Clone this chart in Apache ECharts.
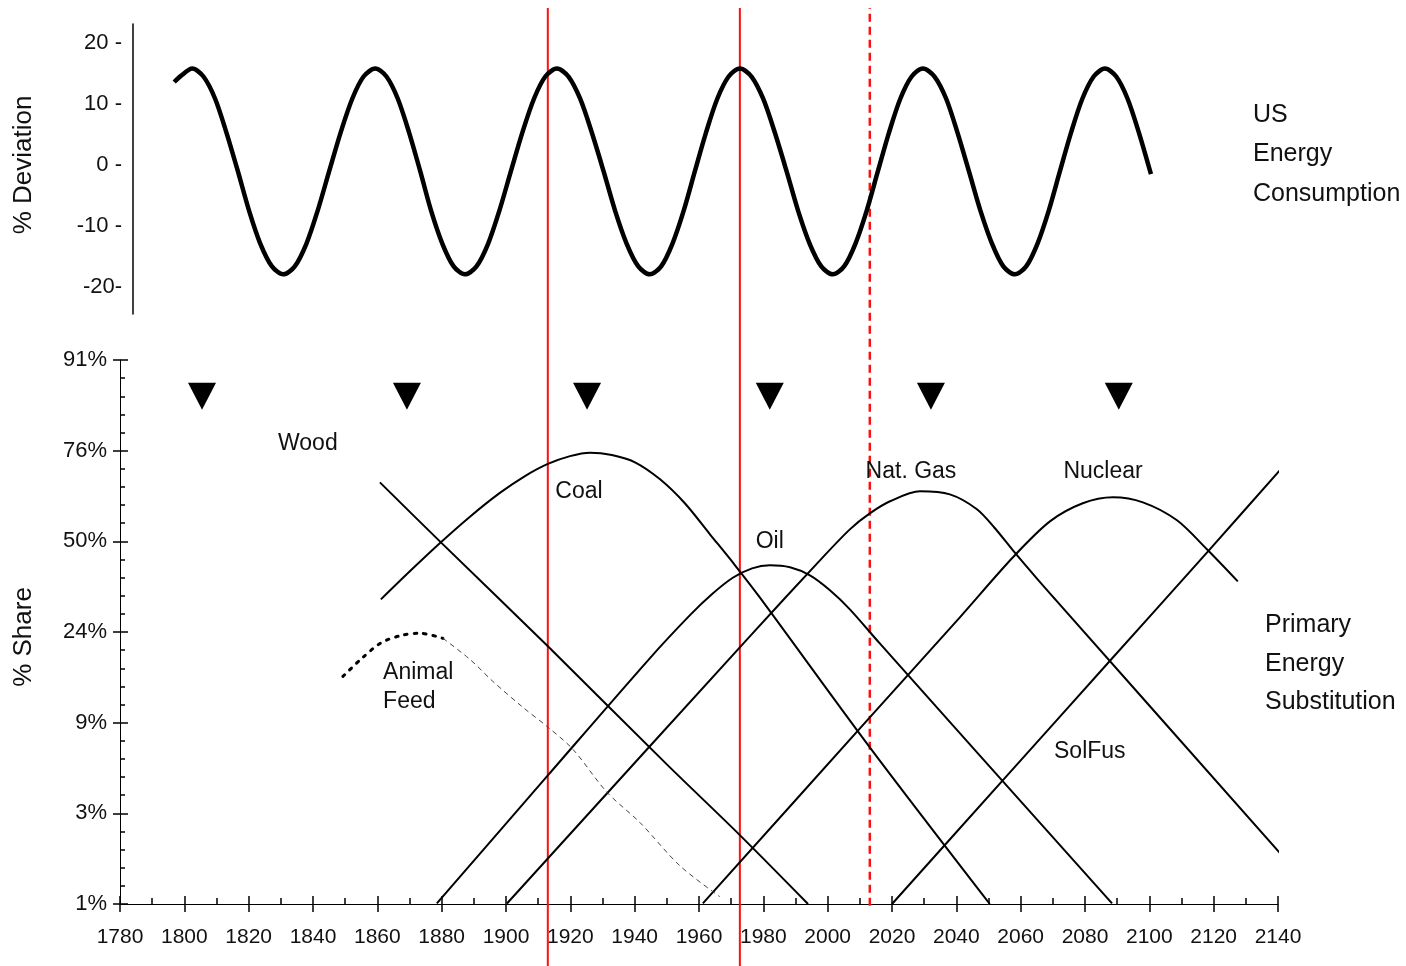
<!DOCTYPE html>
<html>
<head>
<meta charset="utf-8">
<script src="https://cdn.jsdelivr.net/npm/echarts@6/dist/echarts.min.js"></script>
<style>html,body{margin:0;padding:0;background:#fff}#c{width:1406px;height:966px}</style>
</head>
<body>
<div id="c"></div>
<script>
// ---------- DATA ----------
// Top panel: US energy consumption, % deviation
const waveYears = [1796.8, 1798.9,
  1802.4, 1805.9, 1809.5, 1813.0, 1816.6, 1820.1, 1823.6, 1827.2, 1830.7,
  1834.3, 1837.9, 1841.4, 1845.0, 1848.6, 1852.2, 1855.7, 1859.3,
  1862.8, 1866.3, 1869.8, 1873.3, 1876.7, 1880.2, 1883.7, 1887.2,
  1890.8, 1894.4, 1897.9, 1901.5, 1905.1, 1908.7, 1912.2, 1915.8,
  1919.4, 1923.0, 1926.6, 1930.3, 1933.9, 1937.5, 1941.1, 1944.7,
  1948.2, 1951.7, 1955.2, 1958.7, 1962.2, 1965.7, 1969.2, 1972.7,
  1976.3, 1979.9, 1983.5, 1987.2, 1990.8, 1994.4, 1998.0, 2001.6,
  2005.1, 2008.6, 2012.1, 2015.6, 2019.1, 2022.6, 2026.1, 2029.6,
  2033.2, 2036.8, 2040.3, 2043.9, 2047.5, 2051.1, 2054.6, 2058.2,
  2061.7, 2065.2, 2068.7, 2072.2, 2075.7, 2079.2, 2082.7, 2086.2,
  2089.7, 2093.2, 2096.7, 2100.5];
const waveValues = [13.6, 14.6,
  15.8, 14.5, 10.9, 5.4, -1.0, -7.5, -12.9, -16.6, -17.9,
  -16.6, -12.9, -7.5, -1.0, 5.4, 10.9, 14.5, 15.8,
  14.5, 10.9, 5.4, -1.0, -7.5, -12.9, -16.6, -17.9,
  -16.6, -12.9, -7.5, -1.0, 5.4, 10.9, 14.5, 15.8,
  14.5, 10.9, 5.4, -1.0, -7.5, -12.9, -16.6, -17.9,
  -16.6, -12.9, -7.5, -1.0, 5.4, 10.9, 14.5, 15.8,
  14.5, 10.9, 5.4, -1.0, -7.5, -12.9, -16.6, -17.9,
  -16.6, -12.9, -7.5, -1.0, 5.4, 10.9, 14.5, 15.8,
  14.5, 10.9, 5.4, -1.0, -7.5, -12.9, -16.6, -17.9,
  -16.6, -12.9, -7.5, -1.0, 5.4, 10.9, 14.5, 15.8,
  14.5, 10.9, 5.4, -1.5];
const deviationTicks = [-20, -10, 0, 10, 20];

// Bottom panel: market share on a logit scale, value = log10(f/(1-f))
const shareTickLabels = ['1%', '3%', '9%', '24%', '50%', '76%', '91%'];
const wood = [[1860.8, 0.325], [1880.0, -0.01], [1913.1, -0.58], [1950.0, -1.23], [1972.7, -1.62], [1993.9, -2.0]];
const coal = [[1861.1, -0.320], [1870.1, -0.165], [1879.5, -0.009], [1888.8, 0.136], [1898.1, 0.267],
  [1905.9, 0.360], [1913.0, 0.427], [1919.9, 0.470], [1926.1, 0.489], [1932.9, 0.476], [1940.1, 0.436],
  [1947.9, 0.342], [1955.6, 0.210], [1963.4, 0.039], [1971.2, -0.132], [1978.9, -0.309], [2013.1, -1.136], [2050.4, -2.0]];
const oil = [[1878.5, -1.997], [1913.0, -1.291], [1944.7, -0.645], [1957.2, -0.407], [1964.0, -0.292],
  [1970.5, -0.201], [1976.5, -0.149], [1982.0, -0.132], [1988.3, -0.143], [1994.5, -0.188], [2000.7, -0.270],
  [2006.9, -0.375], [2016.2, -0.563], [2088.4, -1.997]];
const natGas = [[1900.3, -1.997], [1975.8, -0.524], [1997.6, -0.105], [2006.9, 0.066], [2013.1, 0.154],
  [2019.4, 0.221], [2028.7, 0.276], [2038.0, 0.259], [2046.4, 0.177], [2052.0, 0.072], [2057.6, -0.050],
  [2065.0, -0.204], [2071.3, -0.331], [2141.5, -1.737]];
const nuclear = [[1961.2, -1.997], [2013.1, -0.971], [2041.1, -0.419], [2057.6, -0.088], [2069.1, 0.110],
  [2079.3, 0.210], [2088.7, 0.243], [2098.0, 0.215], [2108.6, 0.116], [2117.9, -0.044], [2127.5, -0.221]];
const solFus = [[2020.0, -2.0], [2054.5, -1.317], [2087.7, -0.66], [2117.9, -0.062], [2141.5, 0.41]];
const animalFeed = [[1849.3, -0.745], [1855.5, -0.64], [1861.4, -0.557], [1867.7, -0.518], [1873.3, -0.507], [1880.4, -0.535]];
const animalFeedTail = [[1880.4, -0.535], [1888.8, -0.651], [1895.9, -0.772], [1905.3, -0.916], [1912.7, -1.02],
  [1920.8, -1.147], [1931.4, -1.384], [1941.6, -1.55], [1954.1, -1.79], [1966.5, -1.96]];
const peakMarkerYears = [1805.5, 1869.2, 1925.2, 1982.0, 2032.1, 2090.5];
const redLineYears = [1913.0, 1972.7];
const dashedRedLineYear = 2013.1;
const curveLabelNames = ['Wood', 'Coal', 'Oil', 'Nat. Gas', 'Nuclear', 'SolFus'];

// ---------- CHART ----------
const FONT = 'Liberation Sans, Arial, sans-serif';
const TXT = '#111';
const chart = echarts.init(document.getElementById('c'), null, {renderer: 'canvas'});

// label anchor positions (year, logit)
const labelAnchors = [[1838.4, 0.54], [1922.7, 0.276], [1982.0, 0.0], [2025.9, 0.386], [2085.6, 0.386], [2081.5, -1.158]];

function curve(name, data, extra) {
  return Object.assign({
    name: name, type: 'line', xAxisIndex: 1, yAxisIndex: 1, data: data,
    smooth: 0.3, symbol: 'none', clip: false, z: 3, silent: true,
    lineStyle: {color: '#000', width: 2}
  }, extra || {});
}

const series = [
  {
    name: 'US Energy Consumption', type: 'line', xAxisIndex: 0, yAxisIndex: 0,
    data: waveYears.map((y, i) => [y, waveValues[i]]),
    smooth: 0.3, symbol: 'none', clip: false, z: 3, silent: true,
    lineStyle: {color: '#000', width: 4.5}
  },
  curve('Wood', wood),
  curve('Coal', coal),
  curve('Oil', oil),
  curve('Nat. Gas', natGas),
  curve('Nuclear', nuclear),
  curve('SolFus', solFus),
  curve('Animal Feed', animalFeed, {lineStyle: {color: '#000', width: 3, type: [2.5, 7], cap: 'round'}}),
  curve('Animal Feed (tail)', animalFeedTail, {lineStyle: {color: '#444', width: 1, type: [5, 4]}}),
  {
    name: 'Peaks', type: 'scatter', xAxisIndex: 1, yAxisIndex: 1,
    data: peakMarkerYears.map(y => [y, 0.80]),
    symbol: 'triangle', symbolRotate: 180, symbolSize: [28, 27], z: 4, silent: true,
    itemStyle: {color: '#000', opacity: 1}
  },
  {
    name: 'Labels', type: 'scatter', xAxisIndex: 1, yAxisIndex: 1, symbolSize: 0, z: 5, silent: true,
    itemStyle: {opacity: 1},
    data: curveLabelNames.map((n, i) => ({name: n, value: labelAnchors[i]})),
    label: {show: true, position: 'inside', formatter: p => p.name, fontFamily: FONT, fontSize: 23, color: TXT, opacity: 1}
  },
  {
    name: 'AnimalLabel', type: 'scatter', xAxisIndex: 1, yAxisIndex: 1, symbolSize: 0, z: 5, silent: true,
    itemStyle: {opacity: 1},
    data: [{name: 'Animal\nFeed', value: [1861.8, -0.805]}],
    label: {show: true, position: 'right', distance: 0, align: 'left', formatter: p => p.name,
      fontFamily: FONT, fontSize: 23, lineHeight: 29, color: TXT, opacity: 1}
  }
];
redLineYears.forEach(y => series.push({
  type: 'line', xAxisIndex: 3, yAxisIndex: 3, data: [[y, 0], [y, 1]], symbol: 'none', z: 1, silent: true,
  lineStyle: {color: '#ff1010', width: 2}
}));
series.push({
  type: 'line', xAxisIndex: 3, yAxisIndex: 3, data: [[dashedRedLineYear, 0.063], [dashedRedLineYear, 1]],
  symbol: 'none', z: 1, silent: true, lineStyle: {color: '#ff1010', width: 2.5, type: [8, 5]}
});

const option = {
  backgroundColor: '#fff',
  animation: false,
  grid: [
    {left: 133, right: 128, top: 24, bottom: 652},
    {left: 120, right: 128, top: 360, bottom: 62},
    {left: 120, right: 128, top: 8, bottom: 0}
  ],
  xAxis: [
    {gridIndex: 0, type: 'value', min: 1784, max: 2140, show: false},
    {gridIndex: 1, type: 'value', position: 'bottom', min: 1780, max: 2140, interval: 20,
      axisLine: {show: true, onZero: false, lineStyle: {color: '#000', width: 1}},
      axisTick: {show: true, inside: false, length: 8, lineStyle: {color: '#000', width: 1.5}},
      axisLabel: {fontFamily: FONT, fontSize: 21, color: TXT, margin: 23, formatter: v => String(v)},
      splitLine: {show: false}},
    {gridIndex: 1, type: 'value', position: 'bottom', min: 1780, max: 2140, interval: 20,
      axisLine: {show: false, onZero: false},
      axisTick: {show: true, inside: true, length: 8, lineStyle: {color: '#000', width: 1.5}},
      minorTick: {show: true, splitNumber: 2, length: 6, lineStyle: {color: '#000', width: 1.5}},
      axisLabel: {show: false}, splitLine: {show: false}},
    {gridIndex: 2, type: 'value', min: 1780, max: 2140, show: false}
  ],
  yAxis: [
    {gridIndex: 0, type: 'value', min: -24.4, max: 23.1,
      axisLine: {show: true, lineStyle: {color: '#000', width: 1.5}},
      axisTick: {show: false},
      axisLabel: {customValues: deviationTicks, fontFamily: FONT, fontSize: 22, color: TXT, margin: 11,
        formatter: v => (v === -20 ? '-20-' : v + ' -')},
      splitLine: {show: false}},
    {gridIndex: 1, type: 'value', position: 'left', min: -2, max: 1, interval: 0.5,
      axisLine: {show: true, onZero: false, lineStyle: {color: '#000', width: 1}},
      axisTick: {show: true, inside: false, length: 7, lineStyle: {color: '#000', width: 1.5}},
      axisLabel: {fontFamily: FONT, fontSize: 22, color: TXT, margin: 13,
        formatter: v => shareTickLabels[Math.round((v + 2) / 0.5)]},
      splitLine: {show: false}},
    {gridIndex: 1, type: 'value', position: 'left', min: -2, max: 1, interval: 0.5,
      axisLine: {show: false, onZero: false},
      axisTick: {show: true, inside: true, length: 8, lineStyle: {color: '#000', width: 1.5}},
      minorTick: {show: true, splitNumber: 5, length: 5, lineStyle: {color: '#000', width: 1.5}},
      axisLabel: {show: false}, splitLine: {show: false}},
    {gridIndex: 2, type: 'value', min: 0, max: 1, show: false}
  ],
  graphic: [
    {type: 'text', x: 24, y: 165, rotation: Math.PI / 2, silent: true,
      style: {text: '% Deviation', font: '26px ' + FONT, fill: TXT, align: 'center', verticalAlign: 'middle'}},
    {type: 'text', x: 24, y: 637, rotation: Math.PI / 2, silent: true,
      style: {text: '% Share', font: '26px ' + FONT, fill: TXT, align: 'center', verticalAlign: 'middle'}},
    {type: 'text', x: 1253, y: 95, silent: true,
      style: {text: 'US\nEnergy\nConsumption', font: '25px ' + FONT, lineHeight: 39.5, fill: TXT, align: 'left', verticalAlign: 'top'}},
    {type: 'text', x: 1265, y: 606, silent: true,
      style: {text: 'Primary\nEnergy\nSubstitution', font: '25px ' + FONT, lineHeight: 38.5, fill: TXT, align: 'left', verticalAlign: 'top'}}
  ],
  series: series
};
chart.setOption(option);
</script>
</body>
</html>
